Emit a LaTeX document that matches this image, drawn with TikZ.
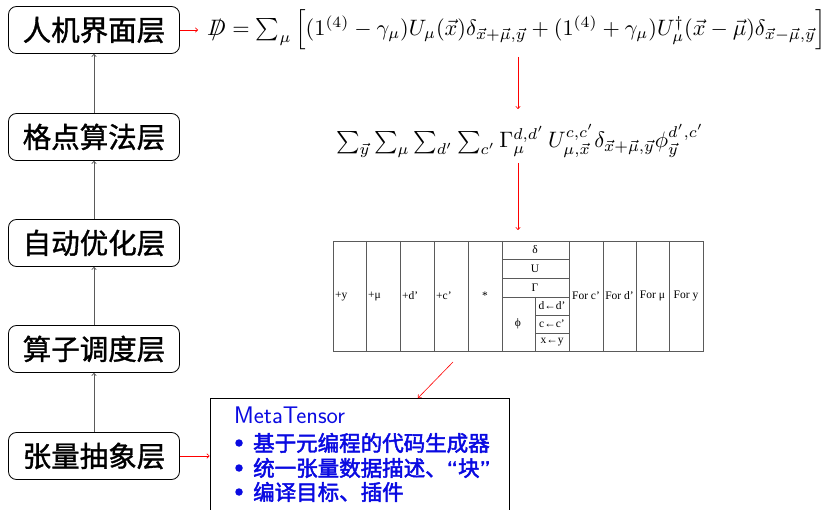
\documentclass[tikz,border=0pt]{standalone}
\usepackage{amsmath}
\usepackage{fontspec}
\newfontfamily\cjk[FakeBold=1.2]{Noto Sans CJK SC}
\newfontfamily\cjkb[FakeBold=2.2]{Noto Sans CJK SC}
\newfontfamily\tabfont{Liberation Serif}
\usetikzlibrary{arrows.meta}
\definecolor{mtblue}{RGB}{10,10,225}
\definecolor{linegray}{RGB}{90,90,90}
\begin{document}
\begin{tikzpicture}[x=1pt,y=-1pt,
  layer/.style={draw=black, line width=0.8pt, rounded corners=8pt, minimum width=171pt, minimum height=47pt, inner sep=0pt, font=\cjk\fontsize{28.5}{28.5}\selectfont},
  uparrow/.style={draw=linegray, line width=0.8pt, -{To[length=3pt,width=5pt]}},
  redarrow/.style={draw=red, line width=0.6pt, -{To[length=3pt,width=5pt]}},
  tabline/.style={draw=linegray, line width=0.5pt},
  tabtxt/.style={font=\tabfont\fontsize{11.5}{12}\selectfont, inner sep=0pt},
  mttxt/.style={text=mtblue, anchor=west, inner sep=0pt, font=\cjkb\fontsize{21.5}{23}\selectfont},
  bul/.style={circle, fill=mtblue, minimum size=7.5pt, inner sep=0pt}]
\useasboundingbox (0,0) rectangle (830,510);
\clip (0,0) rectangle (830,510);

% layer boxes
\node[layer] (L1) at (94,30) {人机界面层};
\node[layer] (L2) at (94,137) {格点算法层};
\node[layer] (L3) at (94,243) {自动优化层};
\node[layer] (L4) at (94,349) {算子调度层};
\node[layer] (L5) at (94,456) {张量抽象层};
\draw[uparrow] (L2.north) -- (L1.south);
\draw[uparrow] (L3.north) -- (L2.south);
\draw[uparrow] (L4.north) -- (L3.south);
\draw[uparrow] (L5.north) -- (L4.south);

% formula 1
\node[anchor=west, inner sep=0pt] (F1) at (207,30) {\resizebox{619pt}{!}{$\ooalign{$D$\cr\hidewidth$/$\hidewidth\cr} = \textstyle\sum_\mu \Big[(1^{(4)} - \gamma_\mu)U_\mu(\vec{x})\delta_{\vec{x}+\vec{\mu},\vec{y}} + (1^{(4)} + \gamma_\mu)U^\dagger_\mu(\vec{x}-\vec{\mu})\delta_{\vec{x}-\vec{\mu},\vec{y}}\Big]$}};
\draw[redarrow, shorten >=9pt] (L1.east) -- (F1.west);

% formula 2
\node[inner sep=0pt] (F2) at (520,141) {\resizebox{368pt}{!}{$\textstyle\sum_{\vec{y}}\sum_\mu\sum_{d'}\sum_{c'}\Gamma_\mu^{d,d'}\,U^{c,c'}_{\mu,\vec{x}}\delta_{\vec{x}+\vec{\mu},\vec{y}}\phi_{\vec{y}}^{d',c'}$}};
\coordinate (a1s) at (518,57);
\coordinate (a1e) at (518,109);
\coordinate (a2s) at (518,163);
\coordinate (a2e) at (518,230);
\draw[redarrow] (a1s) -- (a1e);
\draw[redarrow] (a2s) -- (a2e);

% table
\draw[tabline] (333,241) rectangle (703,351);
\foreach \x in {366,400,434,468,502,569,603,636,669} \draw[tabline] (\x,241) -- (\x,351);
\draw[tabline] (535,297) -- (535,351);
\foreach \y in {259,278,297} \draw[tabline] (502,\y) -- (569,\y);
\foreach \y in {315,333} \draw[tabline] (535,\y) -- (569,\y);
\node[tabtxt, anchor=west] (c1) at (335,296) {+y};
\node[tabtxt, anchor=west] (c2) at (368,296) {+μ};
\node[tabtxt, anchor=west] (c3) at (402,296) {+d’};
\node[tabtxt, anchor=west] (c4) at (436,296) {+c’};
\node[tabtxt] (c5) at (485,296) {*};
\node[tabtxt] (c6) at (535,250) {δ};
\node[tabtxt] (c7) at (535,268.5) {U};
\node[tabtxt] (c8) at (535,287.5) {Γ};
\node[tabtxt] (c9) at (518,324) {ϕ};
\node[tabtxt] (c10) at (552,306) {d←d’};
\node[tabtxt] (c11) at (552,324) {c←c’};
\node[tabtxt] (c12) at (552,342) {x←y};
\node[tabtxt] (c13) at (586,296) {For c’};
\node[tabtxt] (c14) at (619.5,296) {For d’};
\node[tabtxt] (c15) at (652.5,296) {For μ};
\node[tabtxt] (c16) at (686,296) {For y};

% MetaTensor box
\node[draw=black, line width=0.8pt, minimum width=299pt, minimum height=116pt, inner sep=0pt] (MT) at (359.5,456) {};
\coordinate (a3s) at (453,362);
\coordinate (a3e) at (418,398);
\draw[redarrow] (a3s) -- (a3e);
\draw[redarrow] (L5.east) -- (MT.west);
\node[text=mtblue, anchor=west, inner sep=0pt, font=\sffamily\fontsize{24}{25}\selectfont] (t0) at (234,415) {MetaTensor};
\node[bul] (b1) at (239,443) {};
\node[bul] (b2) at (239,468) {};
\node[bul] (b3) at (239,492) {};
\node[mttxt] (t1) at (253,443) {基于元编程的代码生成器};
\node[mttxt] (t2) at (253,468) {统一张量数据描述、{\sffamily\bfseries “}块{\sffamily\bfseries ”}};
\node[mttxt] (t3) at (253,492) {编译目标、插件};
\end{tikzpicture}
\end{document}
